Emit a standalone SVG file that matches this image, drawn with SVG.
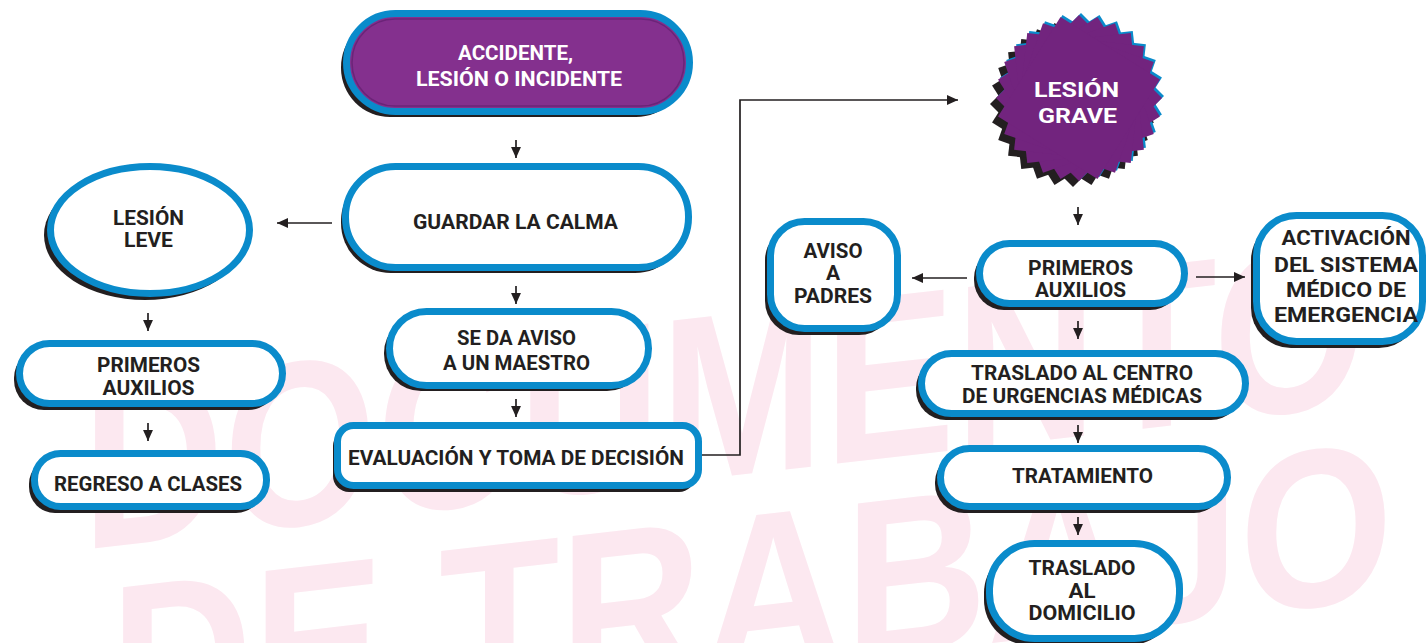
<svg xmlns="http://www.w3.org/2000/svg" xmlns:xlink="http://www.w3.org/1999/xlink" width="1428" height="643" viewBox="0 0 1428 643">
<style>
  .wm { font-family: "Liberation Sans", Arial, sans-serif; font-weight: bold; fill: #fce8f0; }
  .sh { fill: #231f20; }
  .bx { fill: #ffffff; stroke: #0a8bcb; stroke-width: 7; }
  .pu { fill: #84308e; stroke: #0a8bcb; stroke-width: 7; }
  .t { font-family: "Roboto", "Liberation Sans", Arial, sans-serif; font-weight: bold; font-size: 21px; fill: #231f20; text-anchor: middle; }
  .tw { font-family: "Roboto", "Liberation Sans", Arial, sans-serif; font-weight: bold; font-size: 21px; fill: #ffffff; text-anchor: middle; }
  .c { fill: none; stroke: #231f20; stroke-width: 1.7; marker-end: url(#ah); }
</style>
<defs>
  <marker id="ah" viewBox="0 0 10 9" markerUnits="userSpaceOnUse" markerWidth="11" markerHeight="10" refX="10" refY="4.5" orient="auto">
    <path d="M0,0 L10,4.5 L0,9 z" fill="#231f20"/>
  </marker>
  <g id="star">
    <polygon points="83,0 0,83 -83,0 0,-83"/>
    <polygon points="83,0 0,83 -83,0 0,-83" transform="rotate(12.857)"/>
    <polygon points="83,0 0,83 -83,0 0,-83" transform="rotate(25.714)"/>
    <polygon points="83,0 0,83 -83,0 0,-83" transform="rotate(38.571)"/>
    <polygon points="83,0 0,83 -83,0 0,-83" transform="rotate(51.429)"/>
    <polygon points="83,0 0,83 -83,0 0,-83" transform="rotate(64.286)"/>
    <polygon points="83,0 0,83 -83,0 0,-83" transform="rotate(77.143)"/>
  </g>
</defs>
<rect width="1428" height="643" fill="#ffffff"/>

<g id="watermark" transform="skewY(-6.5)">
  <text class="wm" x="82" y="559" font-size="235" textLength="1284" lengthAdjust="spacingAndGlyphs">DOCUMENTO</text>
  <text class="wm" x="110" y="756" font-size="225" textLength="1283" lengthAdjust="spacingAndGlyphs">DE TRABAJO</text>
</g>

<g id="connectors">
  <line class="c" x1="516" y1="140" x2="516" y2="158"/>
  <line class="c" x1="516" y1="286" x2="516" y2="304"/>
  <line class="c" x1="516" y1="399" x2="516" y2="417"/>
  <line class="c" x1="332" y1="223" x2="277" y2="223"/>
  <line class="c" x1="148" y1="313" x2="148" y2="331"/>
  <line class="c" x1="148" y1="423" x2="148" y2="441"/>
  <polyline class="c" points="702,455 740,455 740,100 958,100"/>
  <line class="c" x1="1078" y1="207" x2="1078" y2="225"/>
  <line class="c" x1="967" y1="278" x2="912" y2="278"/>
  <line class="c" x1="1196" y1="277" x2="1245" y2="277"/>
  <line class="c" x1="1078" y1="321" x2="1078" y2="339"/>
  <line class="c" x1="1078" y1="425" x2="1078" y2="443"/>
  <line class="c" x1="1078" y1="517" x2="1078" y2="535"/>
</g>

<g id="n-accidente">
  <rect class="sh" x="341" y="18" width="344" height="99" rx="49"/>
  <rect class="pu" x="346.5" y="13.5" width="343" height="98" rx="49"/>
  <rect x="352" y="19" width="332" height="87" rx="43" fill="none" stroke="#6b2478" stroke-width="1.5"/>
  <text class="tw" x="515.5" y="60" textLength="115" lengthAdjust="spacingAndGlyphs">ACCIDENTE,</text>
  <text class="tw" x="519" y="86" textLength="206" lengthAdjust="spacingAndGlyphs">LESIÓN O INCIDENTE</text>
</g>

<g id="n-calma">
  <rect class="sh" x="341" y="171" width="344" height="102" rx="50"/>
  <rect class="bx" x="345.5" y="166.5" width="343" height="101" rx="50"/>
  <text class="t" x="515.5" y="229" textLength="205" lengthAdjust="spacingAndGlyphs">GUARDAR  LA CALMA</text>
</g>

<g id="n-aviso-maestro">
  <rect class="sh" x="384" y="316" width="260" height="75" rx="37"/>
  <rect class="bx" x="389.5" y="311.5" width="259" height="74" rx="37"/>
  <text class="t" x="516.5" y="345" textLength="119" lengthAdjust="spacingAndGlyphs">SE DA AVISO</text>
  <text class="t" x="516.5" y="370" textLength="147" lengthAdjust="spacingAndGlyphs">A UN MAESTRO</text>
</g>

<g id="n-evaluacion">
  <rect class="sh" x="333" y="430" width="362" height="62" rx="16"/>
  <rect class="bx" x="337.5" y="425.5" width="361" height="60" rx="16" stroke-width="8"/>
  <text class="t" x="516" y="465" textLength="336" lengthAdjust="spacingAndGlyphs">EVALUACIÓN Y TOMA DE DECISIÓN</text>
</g>

<g id="n-lesion-leve">
  <ellipse class="sh" cx="145" cy="235" rx="101" ry="65"/>
  <ellipse class="bx" cx="150" cy="230" rx="99.5" ry="63.5"/>
  <text class="t" x="148.5" y="225" textLength="71" lengthAdjust="spacingAndGlyphs">LESIÓN</text>
  <text class="t" x="148.5" y="247" textLength="49" lengthAdjust="spacingAndGlyphs">LEVE</text>
</g>

<g id="n-primeros-izq">
  <rect class="sh" x="14" y="348" width="264" height="62" rx="30"/>
  <rect class="bx" x="19.5" y="343.5" width="263" height="60" rx="30"/>
  <text class="t" x="148.5" y="372" textLength="103" lengthAdjust="spacingAndGlyphs">PRIMEROS</text>
  <text class="t" x="148.5" y="395" textLength="92" lengthAdjust="spacingAndGlyphs">AUXILIOS</text>
</g>

<g id="n-regreso">
  <rect class="sh" x="29" y="458" width="233" height="55" rx="26"/>
  <rect class="bx" x="34.5" y="453.5" width="232" height="53" rx="26"/>
  <text class="t" x="148" y="491" textLength="188" lengthAdjust="spacingAndGlyphs">REGRESO A CLASES</text>
</g>

<g id="n-lesion-grave">
  <use xlink:href="#star" href="#star" transform="translate(1073,104)" fill="#231f20"/>
  <use xlink:href="#star" href="#star" transform="translate(1081,96)" fill="#0a8bcb"/>
  <use xlink:href="#star" href="#star" transform="translate(1079,98)" fill="#72247e"/>
  <text class="tw" x="1076.5" y="97" font-size="25" textLength="85" lengthAdjust="spacingAndGlyphs">LESIÓN</text>
  <text class="tw" x="1077.5" y="123" font-size="25" textLength="79" lengthAdjust="spacingAndGlyphs">GRAVE</text>
</g>

<g id="n-aviso-padres">
  <rect class="sh" x="765" y="226" width="128" height="109" rx="34"/>
  <rect class="bx" x="770.5" y="221.5" width="127" height="107" rx="34"/>
  <text class="t" x="833" y="258" textLength="59" lengthAdjust="spacingAndGlyphs">AVISO</text>
  <text class="t" x="833" y="280">A</text>
  <text class="t" x="833" y="303" textLength="78" lengthAdjust="spacingAndGlyphs">PADRES</text>
</g>

<g id="n-primeros-der">
  <rect class="sh" x="974" y="248" width="206" height="62" rx="30"/>
  <rect class="bx" x="979.5" y="243.5" width="205" height="60" rx="30"/>
  <text class="t" x="1080.5" y="275" textLength="105" lengthAdjust="spacingAndGlyphs">PRIMEROS</text>
  <text class="t" x="1080.5" y="297" textLength="91" lengthAdjust="spacingAndGlyphs">AUXILIOS</text>
</g>

<g id="n-activacion">
  <rect class="sh" x="1251" y="220" width="168" height="128" rx="40"/>
  <rect class="bx" x="1256.5" y="215.5" width="166" height="126" rx="40"/>
  <text class="t" x="1346" y="245" textLength="129" lengthAdjust="spacingAndGlyphs">ACTIVACIÓN</text>
  <text class="t" x="1346" y="272" textLength="144" lengthAdjust="spacingAndGlyphs">DEL SISTEMA</text>
  <text class="t" x="1346" y="297" textLength="120" lengthAdjust="spacingAndGlyphs">MÉDICO DE</text>
  <text class="t" x="1346" y="322" textLength="144" lengthAdjust="spacingAndGlyphs">EMERGENCIA</text>
</g>

<g id="n-traslado-centro">
  <rect class="sh" x="916" y="358" width="325" height="62" rx="30"/>
  <rect class="bx" x="921.5" y="353.5" width="324" height="60" rx="30"/>
  <text class="t" x="1082" y="380" textLength="222" lengthAdjust="spacingAndGlyphs">TRASLADO AL CENTRO</text>
  <text class="t" x="1082" y="403" textLength="240" lengthAdjust="spacingAndGlyphs">DE URGENCIAS MÉDICAS</text>
</g>

<g id="n-tratamiento">
  <rect class="sh" x="935" y="453" width="288" height="60" rx="29"/>
  <rect class="bx" x="940.5" y="448.5" width="287" height="58" rx="29"/>
  <text class="t" x="1082.5" y="483" textLength="141" lengthAdjust="spacingAndGlyphs">TRATAMIENTO</text>
</g>

<g id="n-domicilio">
  <rect class="sh" x="984" y="548" width="191" height="97" rx="45"/>
  <rect class="bx" x="989.5" y="543.5" width="190" height="95" rx="45"/>
  <text class="t" x="1082" y="575" textLength="107" lengthAdjust="spacingAndGlyphs">TRASLADO</text>
  <text class="t" x="1082" y="598" textLength="27" lengthAdjust="spacingAndGlyphs">AL</text>
  <text class="t" x="1082" y="620" textLength="107" lengthAdjust="spacingAndGlyphs">DOMICILIO</text>
</g>
</svg>
